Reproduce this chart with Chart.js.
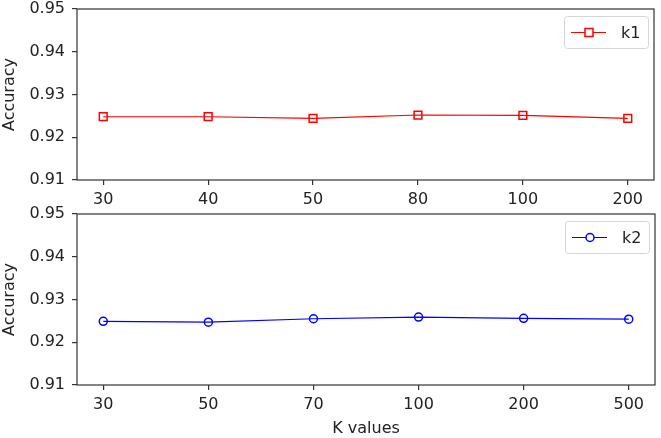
<!DOCTYPE html>
<html>
<head>
<meta charset="utf-8">
<script src="https://cdn.jsdelivr.net/npm/chart.js@4.4.0/dist/chart.umd.min.js"></script>
<style>
  body { margin: 0; background: #fff; }
  #wrap { position: relative; width: 661px; height: 438px; }
  canvas { position: absolute; left: 0; }
</style>
</head>
<body>
<div id="wrap">
  <canvas id="topCanvas" width="661" height="205" style="top:0"></canvas>
  <canvas id="bottomCanvas" width="661" height="233" style="top:205px"></canvas>
</div>
<script>
var kLabels1 = ["30", "40", "50", "80", "100", "200"];
var k1Values = [0.9248, 0.9248, 0.9244, 0.9252, 0.9251, 0.9244];

var kLabels2 = ["30", "50", "70", "100", "200", "500"];
var k2Values = [0.9249, 0.9247, 0.9255, 0.9259, 0.9256, 0.9254];

var yTicks = [0.91, 0.92, 0.93, 0.94, 0.95];

var font = "DejaVu Sans";
Chart.defaults.font.family = font;
Chart.defaults.font.size = 16;
Chart.defaults.color = "#222";

function toPoints(vals) {
  return vals.map(function (v, i) { return {x: i, y: v}; });
}

// box around the plot + legend in upper right corner
var framePlugin = {
  id: "frame",
  afterDraw: function (chart) {
    var a = chart.chartArea, ctx = chart.ctx;
    ctx.save();
    ctx.strokeStyle = "#333";
    ctx.lineWidth = 1.2;
    ctx.strokeRect(a.left, a.top, a.right - a.left, a.bottom - a.top);

    var ds = chart.data.datasets[0];
    var w = 84, h = 32;
    var bx = a.right - w - 6, by = a.top + 7;
    ctx.fillStyle = "rgba(255,255,255,0.8)";
    ctx.strokeStyle = "#d6d6d6";
    ctx.lineWidth = 1;
    ctx.beginPath();
    ctx.roundRect(bx + 0.5, by + 0.5, w, h, 3);
    ctx.fill();
    ctx.stroke();

    var cy = by + h / 2 + 0.5;
    ctx.strokeStyle = ds.borderColor;
    ctx.lineWidth = 1.2;
    ctx.beginPath();
    ctx.moveTo(bx + 7, cy);
    ctx.lineTo(bx + 42, cy);
    ctx.stroke();
    ctx.fillStyle = "#fff";
    ctx.lineWidth = 1.5;
    ctx.beginPath();
    if (ds.pointStyle === "rect") {
      ctx.rect(bx + 25 - 4, cy - 4, 8, 8);
    } else {
      ctx.arc(bx + 25, cy, 4, 0, Math.PI * 2);
    }
    ctx.fill();
    ctx.stroke();

    ctx.fillStyle = "#222";
    ctx.font = "16px '" + font + "'";
    ctx.textBaseline = "middle";
    ctx.fillText(ds.label, bx + 57, cy + 1);
    ctx.restore();
  }
};

function makeChart(id, labels, values, name, color, style, xTitle, xHeight) {
  return new Chart(id, {
    type: "line",
    data: {
      datasets: [{
        label: name,
        data: toPoints(values),
        borderColor: color,
        borderWidth: 1.2,
        pointStyle: style,
        pointRadius: style === "rect" ? 5.5 : 4,
        pointBorderWidth: 1.5,
        pointBackgroundColor: "rgba(255,255,255,0)",
        pointBorderColor: color,
        tension: 0
      }]
    },
    options: {
      responsive: false,
      animation: false,
      layout: {padding: {top: 9, right: 6, left: 0, bottom: 0}},
      plugins: {legend: {display: false}, tooltip: {enabled: false}},
      scales: {
        x: {
          type: "linear",
          min: -0.25,
          max: labels.length - 0.75,
          afterBuildTicks: function (s) {
            s.ticks = labels.map(function (l, i) { return {value: i}; });
          },
          afterFit: function (s) {
            s.height = xHeight;
            s.paddingLeft = 0;
            s.paddingRight = 0;
          },
          ticks: {
            padding: 5,
            color: "#222",
            maxRotation: 0,
            callback: function (v) { return labels[v]; }
          },
          grid: {drawOnChartArea: false, drawTicks: true, tickLength: 5, color: "#333", lineWidth: 1.2},
          border: {display: false},
          title: {display: !!xTitle, text: xTitle, color: "#222", padding: {top: 0, bottom: 0}}
        },
        y: {
          min: 0.91,
          max: 0.95,
          afterBuildTicks: function (s) {
            s.ticks = yTicks.map(function (v) { return {value: v}; });
          },
          afterFit: function (s) {
            s.width = 77;
            s.paddingTop = 0;
            s.paddingBottom = 0;
          },
          ticks: {
            padding: 7,
            color: "#222",
            callback: function (v) { return v.toFixed(2); }
          },
          grid: {drawOnChartArea: false, drawTicks: true, tickLength: 5, color: "#333", lineWidth: 1.2},
          border: {display: false},
          title: {display: true, text: "Accuracy", color: "#222", padding: {top: 0, bottom: 2}}
        }
      }
    },
    plugins: [framePlugin]
  });
}

makeChart("topCanvas", kLabels1, k1Values, "k1", "#ff0000", "rect", "", 25);
makeChart("bottomCanvas", kLabels2, k2Values, "k2", "#0000ff", "circle", "K values", 53);
</script>
</body>
</html>
